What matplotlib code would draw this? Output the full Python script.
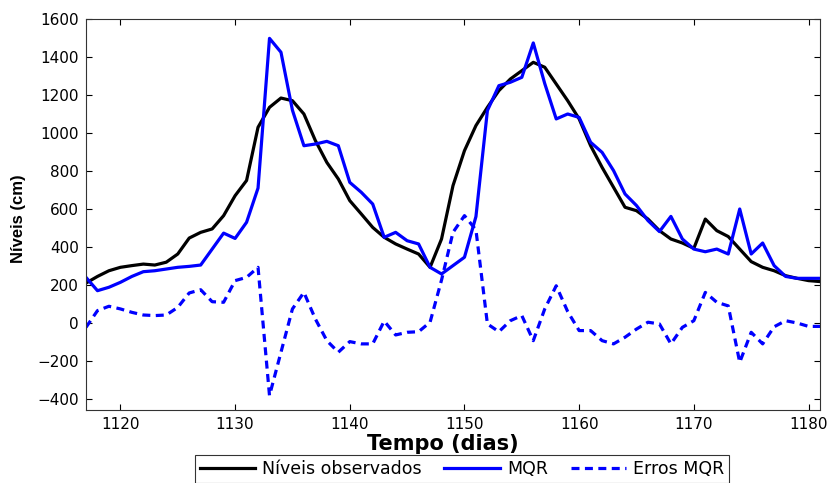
import matplotlib
matplotlib.use("Agg")
import matplotlib.pyplot as plt
import numpy as np

plt.rcParams['font.family'] = ['DejaVu Sans']

days = list(range(1117, 1182))

observados = [210, 245, 275, 293, 302, 310, 305, 320, 363, 447,
              477, 495, 565, 670, 750, 1030, 1135, 1184, 1170, 1100,
              960, 845, 758, 644, 574, 503, 451, 416, 389, 363,
              293, 442, 723, 907, 1039, 1135, 1223, 1284, 1328, 1372,
              1346, 1258, 1170, 1074, 933, 819, 714, 609, 591, 547,
              486, 442, 421, 393, 547, 486, 455, 389, 323, 293,
              275, 249, 235, 223, 218]

mqr = [240, 170, 188, 214, 245, 270, 275, 284, 293, 298,
       305, 389, 473, 445, 530, 710, 1498, 1425, 1120, 933,
       942, 956, 933, 740, 688, 626, 451, 477, 433, 416,
       293, 258, 302, 346, 560, 1118, 1249, 1267, 1293, 1474,
       1260, 1074, 1100, 1082, 951, 898, 802, 679, 618, 539,
       481, 561, 442, 389, 375, 389, 363, 600, 363, 421,
       302, 245, 235, 235, 235]

erros = [-23, 65, 88, 74, 56, 42, 39, 42, 82, 158,
         175, 112, 109, 223, 240, 293, -382, -154, 74, 161,
         21, -93, -154, -98, -110, -110, 10, -63, -49, -46,
         4, 226, 477, 565, 490, -5, -46, 12, 39, -93,
         74, 196, 60, -40, -40, -93, -110, -75, -32, 4,
         -5, -110, -23, 12, 161, 109, 90, -207, -49, -110,
         -20, 12, 0, -18, -18]

xticks = [1120, 1130, 1140, 1150, 1160, 1170, 1180]
yticks = [-400, -200, 0, 200, 400, 600, 800, 1000, 1200, 1400, 1600]

fig = plt.figure(figsize=(8.28, 4.83), dpi=100)
ax = fig.add_axes([86/828, 1-410/483, (820-86)/828, (410-19)/483])

ax.plot(days, observados, color='black', lw=2.3, label='Níveis observados')
ax.plot(days, mqr, color='#0000ff', lw=2.3, label='MQR')
ax.plot(days, erros, color='#0000ff', lw=2.3, ls=(0, (2.5, 1.7)), label='Erros MQR')

ax.set_xlim(1117, 1181)
ax.set_ylim(-458, 1600)
ax.set_xticks(xticks)
ax.set_yticks(yticks)
ax.tick_params(direction='in', length=4, width=0.8, top=True, right=True,
               labelsize=11, colors='black', pad=5)
for s in ax.spines.values():
    s.set_linewidth(0.8)
    s.set_color('#333333')

ax.set_xlabel('Tempo (dias)', fontsize=15, fontweight='bold')
ax.xaxis.set_label_coords((443-86)/734, -0.062)
ax.set_ylabel('Níveis (cm)', fontsize=12, fontweight='bold',
              family='Liberation Sans')
ax.yaxis.set_label_coords(-0.082, 0.49)

leg = fig.legend(loc='upper center', bbox_to_anchor=(462/828, 1-455/483), ncol=3,
                 fontsize=12.5, frameon=True, fancybox=False, edgecolor='black',
                 handlelength=3.2, columnspacing=1.3, handletextpad=0.4,
                 borderpad=0.3, borderaxespad=0)
leg.get_frame().set_linewidth(0.8)

fig.savefig('out.png', dpi=100)
